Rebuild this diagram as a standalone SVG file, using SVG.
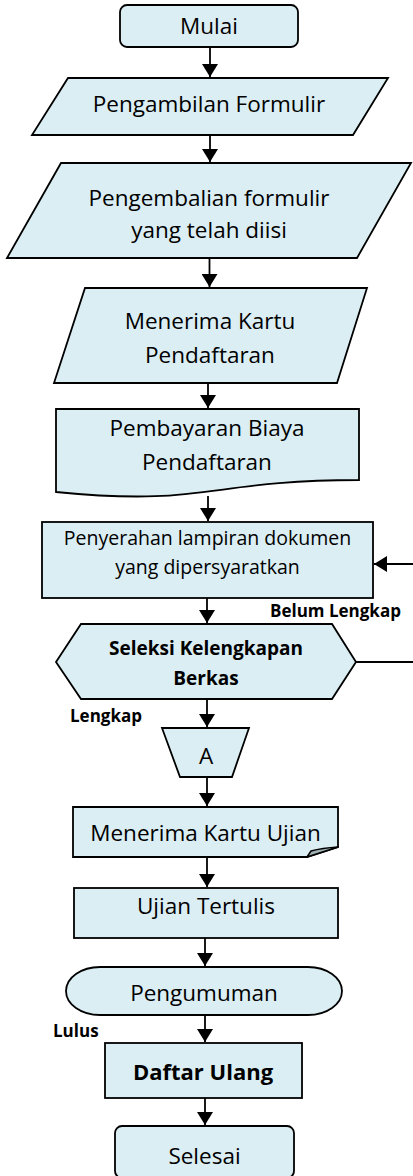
<svg xmlns="http://www.w3.org/2000/svg" width="413" height="1176" viewBox="0 0 413 1176">
<style>
.s{fill:#DBEEF3;stroke:#000;stroke-width:1.8;stroke-linejoin:miter}
.t{font-family:"Open Sans","Liberation Sans",sans-serif;font-size:22.5px;fill:#000;text-anchor:middle}
.sm{font-size:19.5px}
.b{font-family:"Open Sans","Liberation Sans",sans-serif;font-weight:bold;fill:#000}
.c{fill:none;stroke:#000;stroke-width:1.8}
</style>
<defs>
<marker id="ah" markerUnits="userSpaceOnUse" markerWidth="14" markerHeight="16" refX="13" refY="8" orient="auto">
<path d="M0,0 L13,8 L0,16 Z" fill="#000"/>
</marker>
</defs>
<rect width="413" height="1176" fill="#fff"/>
<g id="connectors">
<line class="c" x1="210" y1="47" x2="210" y2="77" marker-end="url(#ah)"/>
<line class="c" x1="210" y1="135" x2="210" y2="162" marker-end="url(#ah)"/>
<line class="c" x1="209.5" y1="258" x2="209.5" y2="287" marker-end="url(#ah)"/>
<line class="c" x1="208" y1="383" x2="208" y2="408" marker-end="url(#ah)"/>
<line class="c" x1="208" y1="496" x2="208" y2="521" marker-end="url(#ah)"/>
<line class="c" x1="207" y1="598" x2="207" y2="623" marker-end="url(#ah)"/>
<line class="c" x1="207" y1="699" x2="207" y2="727" marker-end="url(#ah)"/>
<line class="c" x1="207" y1="777" x2="207" y2="806" marker-end="url(#ah)"/>
<line class="c" x1="207" y1="857" x2="207" y2="887" marker-end="url(#ah)"/>
<line class="c" x1="205" y1="938" x2="205" y2="966" marker-end="url(#ah)"/>
<line class="c" x1="205" y1="1015" x2="205" y2="1042" marker-end="url(#ah)"/>
<line class="c" x1="205" y1="1098" x2="205" y2="1125" marker-end="url(#ah)"/>
<line class="c" x1="356" y1="662" x2="414" y2="662"/>
<line class="c" x1="414" y1="564" x2="374" y2="564" marker-end="url(#ah)"/>
<text class="b" x="270" y="617" font-size="17">Belum Lengkap</text>
<text class="b" x="70" y="722" font-size="17">Lengkap</text>
<text class="b" x="53" y="1037" font-size="17">Lulus</text>
</g>
<g id="mulai">
<rect class="s" x="120" y="5" width="178" height="42" rx="7"/>
<text class="t" x="209" y="34">Mulai</text>
</g>
<g id="pengambilan">
<polygon class="s" points="68,78 388,78 353,135 32,135"/>
<text class="t" x="209" y="112">Pengambilan Formulir</text>
</g>
<g id="pengembalian">
<polygon class="s" points="61,163 411,163 357,258 7,258"/>
<text class="t" x="209" y="206">Pengembalian formulir</text>
<text class="t" x="209" y="238">yang telah diisi</text>
</g>
<g id="menerima-kartu-pendaftaran">
<polygon class="s" points="85,288 367,288 337,383 54,383"/>
<text class="t" x="210" y="329">Menerima Kartu</text>
<text class="t" x="210" y="363">Pendaftaran</text>
</g>
<g id="pembayaran">
<path class="s" d="M56,409 H359 V480 C207.5,480 207.5,507 56,492 Z"/>
<text class="t" x="207" y="436">Pembayaran Biaya</text>
<text class="t" x="207" y="470">Pendaftaran</text>
</g>
<g id="penyerahan">
<rect class="s" x="42" y="522" width="331" height="76"/>
<text class="t sm" x="207.5" y="545">Penyerahan lampiran dokumen</text>
<text class="t sm" x="207.5" y="574">yang dipersyaratkan</text>
</g>
<g id="seleksi">
<polygon class="s" points="81,624 332,624 356,662 332,699 81,699 56,662"/>
<text class="b" x="206" y="655" font-size="19" text-anchor="middle">Seleksi Kelengkapan</text>
<text class="b" x="206" y="685" font-size="19" text-anchor="middle">Berkas</text>
</g>
<g id="a">
<polygon class="s" points="162,728 249,728 232,777 180,777"/>
<text class="t" x="206" y="764">A</text>
</g>
<g id="menerima-kartu-ujian">
<path class="s" d="M73,807 H338 V847 L307,857 H73 Z"/>
<path d="M307,857 L311,851 Q322,848 338,847 Z" fill="#9FB0B4" stroke="#000" stroke-width="1.5" stroke-linejoin="round"/>
<text class="t" x="205.5" y="841">Menerima Kartu Ujian</text>
</g>
<g id="ujian-tertulis">
<rect class="s" x="74" y="888" width="264" height="50"/>
<text class="t" x="206" y="914">Ujian Tertulis</text>
</g>
<g id="pengumuman">
<rect class="s" x="66" y="967" width="276" height="48" rx="34" ry="24"/>
<text class="t" x="204" y="1001">Pengumuman</text>
</g>
<g id="daftar-ulang">
<rect class="s" x="105" y="1043" width="197" height="55"/>
<text class="b" x="203" y="1080" font-size="22" text-anchor="middle">Daftar Ulang</text>
</g>
<g id="selesai">
<rect class="s" x="115" y="1126" width="179" height="52" rx="7"/>
<text class="t" x="204.5" y="1164">Selesai</text>
</g>
</svg>
